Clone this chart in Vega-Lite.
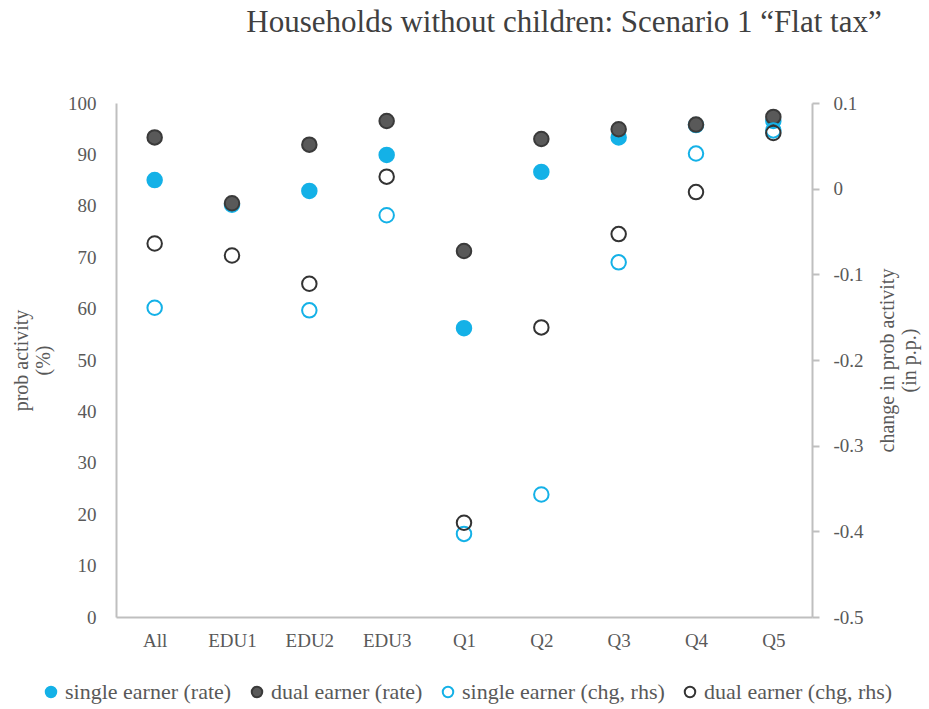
{
  "$schema": "https://vega.github.io/schema/vega-lite/v6.json",
  "width": 696,
  "height": 514,
  "autosize": {"type": "none"},
  "padding": {"left": 116, "top": 103, "right": 117, "bottom": 92},
  "background": "white",
  "title": {
    "text": "Households without children:  Scenario 1 “Flat tax”",
    "font": "Liberation Serif",
    "fontSize": 31,
    "fontWeight": "normal",
    "color": "#404040",
    "anchor": "middle",
    "dx": 100,
    "offset": 55
  },
  "config": {
    "view": {"stroke": null},
    "font": "Liberation Serif",
    "axis": {
      "labelFont": "Liberation Serif",
      "titleFont": "Liberation Serif",
      "labelColor": "#595959",
      "titleColor": "#595959",
      "labelFontSize": 19,
      "titleFontSize": 20,
      "titleFontWeight": "normal",
      "domainColor": "#BFBFBF",
      "domainWidth": 2,
      "tickColor": "#BFBFBF",
      "tickWidth": 2,
      "grid": false
    },
    "legend": {
      "labelFont": "Liberation Serif",
      "labelFontSize": 22,
      "labelColor": "#595959",
      "labelLimit": 0
    }
  },
  "data": {
    "values": [
      {"cat": "All", "series": "single earner (rate)", "rate": 85.0},
      {"cat": "EDU1", "series": "single earner (rate)", "rate": 80.2},
      {"cat": "EDU2", "series": "single earner (rate)", "rate": 82.9},
      {"cat": "EDU3", "series": "single earner (rate)", "rate": 89.9},
      {"cat": "Q1", "series": "single earner (rate)", "rate": 56.2},
      {"cat": "Q2", "series": "single earner (rate)", "rate": 86.6},
      {"cat": "Q3", "series": "single earner (rate)", "rate": 93.3},
      {"cat": "Q4", "series": "single earner (rate)", "rate": 95.7},
      {"cat": "Q5", "series": "single earner (rate)", "rate": 96.5},
      {"cat": "All", "series": "dual earner (rate)", "rate": 93.3},
      {"cat": "EDU1", "series": "dual earner (rate)", "rate": 80.5},
      {"cat": "EDU2", "series": "dual earner (rate)", "rate": 91.9},
      {"cat": "EDU3", "series": "dual earner (rate)", "rate": 96.5},
      {"cat": "Q1", "series": "dual earner (rate)", "rate": 71.2},
      {"cat": "Q2", "series": "dual earner (rate)", "rate": 93.0},
      {"cat": "Q3", "series": "dual earner (rate)", "rate": 94.9},
      {"cat": "Q4", "series": "dual earner (rate)", "rate": 95.8},
      {"cat": "Q5", "series": "dual earner (rate)", "rate": 97.3},
      {"cat": "All", "series": "single earner (chg, rhs)", "chg": -0.139},
      {"cat": "EDU2", "series": "single earner (chg, rhs)", "chg": -0.142},
      {"cat": "EDU3", "series": "single earner (chg, rhs)", "chg": -0.031},
      {"cat": "Q1", "series": "single earner (chg, rhs)", "chg": -0.403},
      {"cat": "Q2", "series": "single earner (chg, rhs)", "chg": -0.357},
      {"cat": "Q3", "series": "single earner (chg, rhs)", "chg": -0.086},
      {"cat": "Q4", "series": "single earner (chg, rhs)", "chg": 0.041},
      {"cat": "Q5", "series": "single earner (chg, rhs)", "chg": 0.068},
      {"cat": "All", "series": "dual earner (chg, rhs)", "chg": -0.064},
      {"cat": "EDU1", "series": "dual earner (chg, rhs)", "chg": -0.078},
      {"cat": "EDU2", "series": "dual earner (chg, rhs)", "chg": -0.111},
      {"cat": "EDU3", "series": "dual earner (chg, rhs)", "chg": 0.014},
      {"cat": "Q1", "series": "dual earner (chg, rhs)", "chg": -0.390},
      {"cat": "Q2", "series": "dual earner (chg, rhs)", "chg": -0.162},
      {"cat": "Q3", "series": "dual earner (chg, rhs)", "chg": -0.053},
      {"cat": "Q4", "series": "dual earner (chg, rhs)", "chg": -0.004},
      {"cat": "Q5", "series": "dual earner (chg, rhs)", "chg": 0.065}
    ]
  },
  "encoding": {
    "x": {
      "field": "cat",
      "type": "nominal",
      "sort": null,
      "scale": {"paddingInner": 0, "paddingOuter": 0},
      "axis": {"title": null, "labelAngle": 0, "ticks": false, "labelPadding": 14}
    },
    "fill": {
      "field": "series",
      "type": "nominal",
      "scale": {
        "domain": ["single earner (rate)", "dual earner (rate)", "single earner (chg, rhs)", "dual earner (chg, rhs)"],
        "range": ["#14B1E7", "#595959", "transparent", "transparent"]
      },
      "legend": {
        "title": null,
        "orient": "none",
        "legendX": -76,
        "legendY": 578,
        "direction": "horizontal",
        "symbolType": "circle",
        "symbolSize": 110,
        "symbolStrokeWidth": 2,
        "columnPadding": 14,
        "labelOffset": 3
      }
    },
    "stroke": {
      "field": "series",
      "type": "nominal",
      "scale": {
        "domain": ["single earner (rate)", "dual earner (rate)", "single earner (chg, rhs)", "dual earner (chg, rhs)"],
        "range": ["#14B1E7", "#3A3A3A", "#14B1E7", "#333333"]
      },
      "legend": {
        "title": null,
        "orient": "none",
        "legendX": -76,
        "legendY": 578,
        "direction": "horizontal",
        "symbolType": "circle",
        "symbolSize": 110,
        "symbolStrokeWidth": 2,
        "columnPadding": 14,
        "labelOffset": 3
      }
    }
  },
  "layer": [
    {
      "transform": [{"filter": "isValid(datum.rate)"}],
      "mark": {"type": "point", "shape": "circle", "size": 210, "strokeWidth": 2, "opacity": 1},
      "encoding": {
        "y": {
          "field": "rate",
          "type": "quantitative",
          "scale": {"domain": [0, 100], "nice": false, "zero": true},
          "axis": {
            "title": ["prob activity", "(%)"],
            "values": [0, 10, 20, 30, 40, 50, 60, 70, 80, 90, 100],
            "ticks": false,
            "labelPadding": 20,
            "titlePadding": 14,
            "orient": "left"
          }
        }
      }
    },
    {
      "transform": [{"filter": "isValid(datum.chg)"}],
      "mark": {"type": "point", "shape": "circle", "size": 210, "strokeWidth": 2, "opacity": 1},
      "encoding": {
        "y": {
          "field": "chg",
          "type": "quantitative",
          "scale": {"domain": [-0.5, 0.1], "nice": false, "zero": false},
          "axis": {
            "title": ["change in prob activity", "(in p.p.)"],
            "titleAngle": 270,
            "values": [-0.5, -0.4, -0.3, -0.2, -0.1, 0, 0.1],
            "labelExpr": "replace(format(datum.value, '.1~f'), '\u2212', '-')",
            "orient": "right",
            "tickSize": 7,
            "labelPadding": 14,
            "titlePadding": 12
          }
        }
      }
    }
  ],
  "resolve": {"scale": {"y": "independent"}}
}
